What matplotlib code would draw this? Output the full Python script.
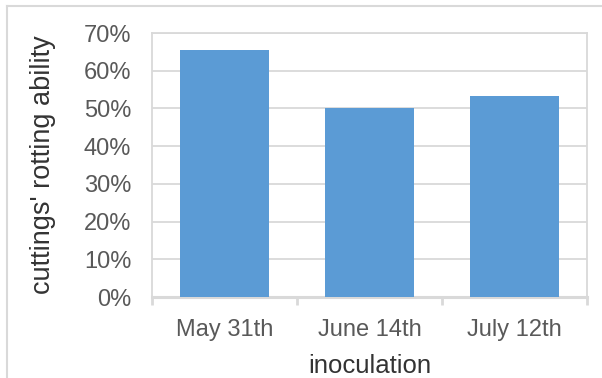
import matplotlib.pyplot as plt
from matplotlib.lines import Line2D
from matplotlib.ticker import FuncFormatter, FixedLocator

dates = ['May 31th', 'June 14th', 'July 12th']
rotting = [0.655, 0.50, 0.532]

plt.rcParams['font.family'] = ['Liberation Sans', 'DejaVu Sans']
grey_txt = '#595959'
grey_ln = '#D9D9D9'

fig = plt.figure(figsize=(6.02, 3.78), dpi=100)
ax = fig.add_axes([152/602, 1-297/378, (587-152)/602, (297-33)/378])

x = range(len(dates))
ax.bar(x, rotting, width=0.62, color='#5B9BD5', zorder=3)

ax.set_xlim(-0.5, 2.5)
ax.set_ylim(0, 0.7)
ax.set_yticks([i/10 for i in range(8)])
ax.yaxis.set_major_formatter(FuncFormatter(lambda v, p: f'{v*100:.0f}%'))
ax.grid(axis='y', color=grey_ln, lw=1.3, zorder=0)

ax.set_xticks(list(x))
ax.set_xticklabels(dates)
ax.xaxis.set_minor_locator(FixedLocator([-0.5, 0.5, 1.5, 2.5]))
ax.tick_params(axis='x', which='major', length=0, pad=16, labelsize=17, labelcolor=grey_txt)
ax.tick_params(axis='x', which='minor', length=6, width=2, color=grey_ln)
ax.tick_params(axis='y', length=0, pad=15, labelsize=17, labelcolor=grey_txt)

for s in ['left', 'right', 'top']:
    ax.spines[s].set_color(grey_ln)
    ax.spines[s].set_linewidth(1.3)
ax.spines['bottom'].set_color(grey_ln)
ax.spines['bottom'].set_linewidth(2.2)

ax.set_xlabel('inoculation', fontsize=18.5, color='#333333', labelpad=9)
ax.set_ylabel("cuttings' rotting ability", fontsize=19.5, color='#333333', labelpad=20)

# chart outer frame
fig.add_artist(Line2D([7/602, 1], [1-6/378, 1-6/378], color=grey_ln, lw=1.5))
fig.add_artist(Line2D([7/602, 7/602], [0, 1-6/378], color=grey_ln, lw=1.5))

fig.savefig('out.png', dpi=100)
